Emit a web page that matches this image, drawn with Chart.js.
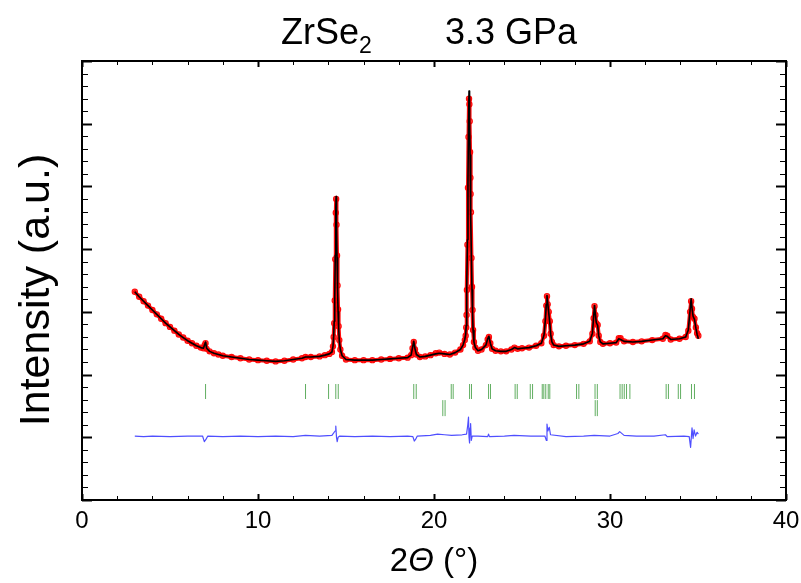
<!DOCTYPE html>
<html>
<head>
<meta charset="utf-8">
<title>ZrSe2 3.3 GPa</title>
<script src="https://cdn.jsdelivr.net/npm/chart.js@4.4.1/dist/chart.umd.min.js"></script>
<style>
  html, body { margin: 0; padding: 0; background: #fff; }
  #wrap { width: 801px; height: 583px; position: relative; }
</style>
</head>
<body>
<div id="wrap"><canvas id="xrd"></canvas></div>
<script>
// 2-theta grid shared by observed and calculated profiles
const twoTheta = [
  3.00, 3.25, 3.50, 3.75, 4.00, 4.25, 4.50, 4.75, 5.00, 5.25, 5.50, 5.75, 6.00, 6.25, 6.50, 6.75,
  6.90, 6.97, 7.02, 7.08, 7.25, 7.50, 7.75, 8.00, 8.50, 9.00, 9.50, 10.00, 10.50, 11.00, 11.50,
  12.00, 12.50, 12.70, 13.00, 13.50, 13.80, 14.05, 14.20, 14.26, 14.30, 14.33, 14.36, 14.39, 14.42,
  14.44, 14.46, 14.49, 14.52, 14.55, 14.58, 14.62, 14.68, 14.78, 15.00, 15.50, 16.00, 16.50, 17.00,
  17.50, 18.00, 18.50, 18.70, 18.78, 18.85, 18.92, 19.00, 19.20, 19.50, 19.80, 20.10, 20.30, 20.60,
  20.90, 21.20, 21.50, 21.65, 21.75, 21.80, 21.83, 21.85, 21.87, 21.90, 21.93, 21.96, 21.99, 22.01,
  22.03, 22.05, 22.07, 22.08, 22.10, 22.13, 22.16, 22.19, 22.22, 22.27, 22.35, 22.50, 22.70, 22.95,
  23.05, 23.12, 23.20, 23.30, 23.50, 23.80, 24.10, 24.40, 24.57, 24.75, 25.00, 25.40, 25.80, 26.10,
  26.25, 26.33, 26.38, 26.42, 26.46, 26.52, 26.58, 26.63, 26.70, 26.80, 27.10, 27.50, 28.00, 28.50,
  28.85, 29.00, 29.07, 29.12, 29.17, 29.22, 29.30, 29.36, 29.45, 29.60, 30.00, 30.35, 30.50, 30.60,
  30.80, 31.30, 31.80, 32.40, 33.00, 33.15, 33.25, 33.45, 33.95, 34.30, 34.45, 34.55, 34.61, 34.66,
  34.72, 34.80, 34.88, 34.95, 35.02
];

const yObs = [
  3.32, 3.24, 3.17, 3.10, 3.03, 2.96, 2.89, 2.82, 2.76, 2.70, 2.64, 2.59, 2.54, 2.50, 2.46, 2.43,
  2.42, 2.47, 2.50, 2.41, 2.37, 2.34, 2.32, 2.30, 2.28, 2.26, 2.24, 2.23, 2.22, 2.21, 2.22,
  2.24, 2.26, 2.28, 2.28, 2.29, 2.31, 2.33, 2.36, 2.45, 2.60, 2.82, 3.18, 3.84, 4.58,
  4.80, 4.39, 3.90, 3.42, 3.04, 2.77, 2.55, 2.40, 2.30, 2.24, 2.23, 2.23, 2.23, 2.24,
  2.25, 2.26, 2.27, 2.31, 2.42, 2.52, 2.40, 2.32, 2.28, 2.29, 2.31, 2.34, 2.35, 2.33,
  2.32, 2.35, 2.40, 2.47, 2.55, 2.62, 2.75, 2.95, 3.35, 4.07, 4.98, 5.79, 6.40, 6.31,
  6.04, 5.55, 5.14, 4.88, 4.59, 3.86, 3.40, 3.03, 2.71, 2.52, 2.43, 2.38, 2.40, 2.47,
  2.56, 2.60, 2.50, 2.41, 2.38, 2.37, 2.37, 2.40, 2.43, 2.41, 2.42, 2.43, 2.46, 2.50,
  2.62, 2.85, 3.10, 3.25, 3.12, 3.00, 2.85, 2.65, 2.52, 2.47, 2.45, 2.46, 2.47, 2.49,
  2.53, 2.65, 2.90, 3.09, 2.95, 2.82, 2.79, 2.62, 2.52, 2.49, 2.50, 2.51, 2.58, 2.58,
  2.53, 2.52, 2.53, 2.55, 2.57, 2.63, 2.62, 2.56, 2.57, 2.60, 2.70, 3.00, 3.17, 3.05,
  2.92, 2.89, 2.75, 2.66, 2.62
];

const yCalc = [
  3.32, 3.24, 3.17, 3.10, 3.03, 2.96, 2.89, 2.82, 2.76, 2.70, 2.64, 2.59, 2.54, 2.50, 2.46, 2.43,
  2.42, 2.48, 2.52, 2.42, 2.37, 2.34, 2.32, 2.30, 2.28, 2.26, 2.24, 2.23, 2.22, 2.21, 2.22,
  2.24, 2.26, 2.28, 2.28, 2.29, 2.31, 2.33, 2.36, 2.45, 2.62, 2.85, 3.22, 3.90, 4.65,
  4.84, 4.45, 3.86, 3.38, 3.00, 2.75, 2.54, 2.40, 2.30, 2.24, 2.23, 2.23, 2.23, 2.24,
  2.25, 2.26, 2.27, 2.31, 2.43, 2.53, 2.41, 2.32, 2.28, 2.29, 2.31, 2.33, 2.34, 2.33,
  2.32, 2.35, 2.40, 2.47, 2.56, 2.64, 2.78, 3.00, 3.40, 4.15, 5.10, 5.95, 6.52, 6.45,
  6.10, 5.50, 5.05, 4.85, 4.55, 3.80, 3.35, 3.00, 2.70, 2.52, 2.43, 2.38, 2.40, 2.47,
  2.57, 2.61, 2.50, 2.41, 2.38, 2.37, 2.37, 2.40, 2.43, 2.41, 2.42, 2.43, 2.46, 2.50,
  2.63, 2.88, 3.12, 3.26, 3.14, 2.98, 2.82, 2.64, 2.52, 2.47, 2.45, 2.46, 2.47, 2.49,
  2.53, 2.66, 2.92, 3.10, 2.96, 2.83, 2.78, 2.62, 2.52, 2.49, 2.50, 2.51, 2.57, 2.56,
  2.53, 2.52, 2.53, 2.55, 2.57, 2.62, 2.61, 2.56, 2.57, 2.60, 2.71, 3.03, 3.21, 3.06,
  2.93, 2.88, 2.74, 2.64, 2.57
];

// difference curve (obs - calc), shifted to its own baseline
const diffTheta = [
  3.00, 3.50, 4.00, 5.00, 6.00, 6.85, 6.95, 7.05, 7.15, 8.00, 9.00, 10.00, 11.00, 12.00, 12.70,
  13.50, 14.20, 14.38, 14.42, 14.46, 14.50, 14.55, 14.65, 15.50, 16.50, 17.50, 18.50, 18.80, 18.88,
  18.96, 19.05, 19.80, 20.20, 20.60, 21.00, 21.60, 21.85, 21.92, 21.96, 21.99, 22.02, 22.05, 22.08,
  22.12, 22.17, 22.50, 23.05, 23.10, 23.15, 24.00, 24.55, 25.50, 26.30, 26.38, 26.42, 26.47, 26.55,
  26.62, 27.50, 28.50, 29.10, 30.00, 30.45, 30.55, 30.80, 31.50, 32.50, 33.15, 33.25, 34.20, 34.50,
  34.58, 34.66, 34.72, 34.78, 34.86, 34.95, 35.02
];
const yDiff = [
  1.02, 1.01, 1.02, 1.01, 1.02, 1.02, 0.93, 0.97, 1.02, 1.01, 1.02, 1.01, 1.02, 1.01, 1.03,
  1.02, 1.03, 1.10, 1.18, 1.00, 0.93, 1.00, 1.02, 1.01, 1.02, 1.01, 1.02, 1.01, 0.94,
  0.97, 1.02, 1.03, 1.05, 1.04, 1.03, 1.04, 1.05, 1.20, 1.32, 1.00, 0.91, 1.15, 1.22,
  0.95, 1.02, 1.02, 1.01, 1.05, 1.01, 1.02, 1.03, 1.02, 1.02, 0.95, 1.21, 1.10, 1.16,
  1.04, 1.01, 1.02, 1.03, 1.02, 1.06, 1.09, 1.03, 1.02, 1.02, 1.04, 1.01, 1.02, 1.01,
  0.84, 1.15, 0.98, 1.12, 1.02, 1.08, 1.05
];

// Bragg reflection positions, ZrSe2 (upper row) and second phase (lower row)
const braggMain = [
  7.02, 12.70, 14.01, 14.42, 14.56, 18.85, 18.99, 20.98, 21.09, 22.02, 22.13, 23.10, 23.21,
  24.61, 24.73, 25.47, 25.60, 26.15, 26.24, 26.35, 26.49, 26.58, 28.10, 28.23, 29.15, 29.28,
  30.57, 30.69, 30.81, 30.94, 31.13, 33.19, 33.32, 33.88, 34.01, 34.63, 34.80
];
const braggSecond = [20.50, 20.63, 29.16, 29.28];
const braggMainRow = 1.73;
const braggSecondRow = 1.465;

const xTicks = [0, 10, 20, 30, 40];

const pts = (xs, ys) => xs.map((v, i) => ({ x: v, y: ys[i] }));
const row = (xs, level) => xs.map(v => ({ x: v, y: level }));

const FONT = '"Liberation Sans", Arial, sans-serif';

// frame, inward ticks on all four sides and the free-form titles
const framePlugin = {
  id: 'framePlugin',
  afterDatasetsDraw(chart) {
    const { ctx, chartArea: a, scales: { x, y } } = chart;
    const seg = (x1, y1, x2, y2) => { ctx.beginPath(); ctx.moveTo(x1, y1); ctx.lineTo(x2, y2); ctx.stroke(); };
    ctx.save();
    ctx.strokeStyle = '#000';
    for (let i = 0; i <= 20; i++) {
      const px = Math.round(x.getPixelForValue(i * 2)) + 0.5;
      const major = i % 5 === 0;
      const len = major ? 6 : 4;
      ctx.lineWidth = major ? 2 : 1;
      seg(px, a.bottom, px, a.bottom - len);
      seg(px, a.top, px, a.top + len);
    }
    for (let i = 0; i <= 35; i++) {
      const py = Math.round(y.getPixelForValue(i * 0.2)) + 0.5;
      const major = i % 5 === 0;
      const len = major ? 10 : 6;
      ctx.lineWidth = major ? 2 : 1;
      seg(a.left, py, a.left + len, py);
      seg(a.right, py, a.right - len, py);
    }
    ctx.lineWidth = 2;
    ctx.strokeRect(a.left, a.top, a.right - a.left, a.bottom - a.top);

    ctx.fillStyle = '#000';
    ctx.textBaseline = 'alphabetic';
    ctx.textAlign = 'left';
    // title with subscript
    ctx.font = '36px ' + FONT;
    ctx.fillText('ZrSe', 281, 44);
    const w = ctx.measureText('ZrSe').width;
    ctx.font = '23px ' + FONT;
    ctx.fillText('2', 281 + w, 53);
    ctx.font = '36px ' + FONT;
    ctx.fillText('3.3 GPa', 445, 44);

    // x title: 2Θ (°) with italic theta
    const cx = (a.left + a.right) / 2;
    const f = '33px ' + FONT;
    const fi = 'italic 33px ' + FONT;
    ctx.font = f; const w1 = ctx.measureText('2').width; const w3 = ctx.measureText(' (°)').width;
    ctx.font = fi; const w2 = ctx.measureText('Θ').width;
    const sx = cx - (w1 + w2 + w3) / 2;
    ctx.font = f; ctx.fillText('2', sx, 571);
    ctx.font = fi; ctx.fillText('Θ', sx + w1, 571);
    ctx.font = f; ctx.fillText(' (°)', sx + w1 + w2, 571);

    // y title
    ctx.save();
    ctx.translate(49, 290);
    ctx.rotate(-Math.PI / 2);
    ctx.textAlign = 'center';
    ctx.font = '43px ' + FONT;
    ctx.fillText('Intensity (a.u.)', 0, 0);
    ctx.restore();
    ctx.restore();
  }
};

new Chart(document.getElementById('xrd').getContext('2d'), {
  type: 'scatter',
  data: {
    datasets: [
      {
        label: 'Calculated',
        data: pts(twoTheta, yCalc),
        showLine: true,
        borderColor: '#000',
        borderWidth: 1.6,
        borderJoinStyle: 'round',
        pointRadius: 0,
        order: 0
      },
      {
        label: 'Observed',
        data: pts(twoTheta, yObs),
        showLine: true,
        borderColor: 'rgba(255, 0, 0, 0.95)',
        borderWidth: 4,
        borderJoinStyle: 'round',
        borderCapStyle: 'round',
        pointRadius: 2.6,
        pointBorderWidth: 1.2,
        pointBorderColor: 'rgba(255, 0, 0, 0.95)',
        pointBackgroundColor: 'rgba(255, 0, 0, 0.3)',
        order: 1
      },
      {
        label: 'Difference',
        data: pts(diffTheta, yDiff),
        showLine: true,
        borderColor: '#4f4fff',
        borderWidth: 1.2,
        borderJoinStyle: 'round',
        pointRadius: 0,
        order: 2
      },
      {
        label: 'Bragg ZrSe2',
        data: row(braggMain, braggMainRow),
        pointStyle: 'line',
        rotation: 90,
        pointRadius: 7.5,
        pointBorderWidth: 1,
        pointBorderColor: 'rgba(30, 140, 30, 0.7)',
        order: 3
      },
      {
        label: 'Bragg phase 2',
        data: row(braggSecond, braggSecondRow),
        pointStyle: 'line',
        rotation: 90,
        pointRadius: 8,
        pointBorderWidth: 1,
        pointBorderColor: 'rgba(30, 140, 30, 0.7)',
        order: 3
      }
    ]
  },
  options: {
    responsive: true,
    maintainAspectRatio: false,
    animation: false,
    events: [],
    layout: { padding: { top: 61, right: 15, bottom: 0, left: 0 } },
    plugins: { legend: { display: false }, tooltip: { enabled: false } },
    scales: {
      x: {
        type: 'linear',
        min: 0,
        max: 40,
        afterBuildTicks: (scale) => { scale.ticks = xTicks.map(v => ({ value: v })); },
        afterFit: (scale) => { scale.height = 83; scale.paddingLeft = 0; scale.paddingRight = 0; },
        grid: { display: false, drawTicks: false },
        border: { display: false },
        ticks: {
          color: '#000',
          padding: 7,
          font: { family: FONT, size: 24 }
        }
      },
      y: {
        type: 'linear',
        min: 0,
        max: 7,
        afterFit: (scale) => { scale.width = 82; },
        grid: { display: false, drawTicks: false },
        border: { display: false },
        ticks: { display: false }
      }
    }
  },
  plugins: [framePlugin]
});
</script>
</body>
</html>
